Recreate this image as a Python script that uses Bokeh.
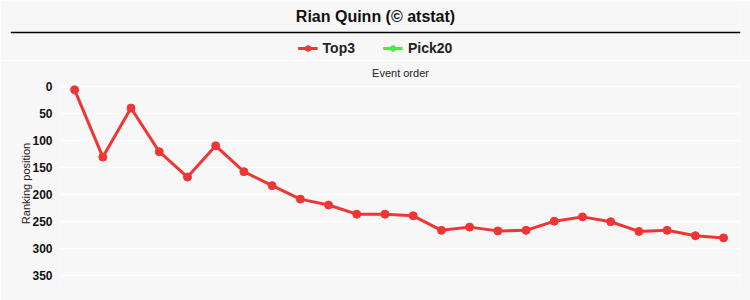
from bokeh.plotting import figure
from bokeh.layouts import column
from bokeh.models import (ColumnDataSource, Range1d, FixedTicker, Legend, LegendItem,
                          Span, Label)
from bokeh.embed import file_html
from bokeh.resources import INLINE

title = "Rian Quinn (© atstat)"
x_title = "Event order"
y_title = "Ranking position"
series_names = ["Top3", "Pick20"]
events = list(range(1, 25))
top3 = [6, 131, 40, 121, 168, 110, 158, 184, 209, 220, 237, 237, 240, 267, 261, 268,
        267, 250, 242, 251, 269, 267, 277, 281]
pick20_events = [1]
pick20 = [float("nan")]
y_ticks = [0, 50, 100, 150, 200, 250, 300, 350]

FONT = "Liberation Sans"
BG = "#f7f7f7"
RED = "#f03535"
GREEN = "#44ee44"

# ---------- header: title, rule, legend ----------
h = figure(width=750, height=60, output_backend="svg", toolbar_location=None,
           x_range=Range1d(0, 1), y_range=Range1d(0, 1),
           x_axis_type=None, y_axis_type=None,
           min_border_left=10, min_border_right=10, min_border_top=0, min_border_bottom=0)
h.frame_align = False
h.background_fill_color = BG
h.border_fill_color = BG
h.outline_line_color = None
h.grid.grid_line_color = None

h.add_layout(Label(x=0.5, y=1 - 16 / 60, text=title, text_align="center",
                   text_baseline="middle", text_font=FONT, text_font_size="16px",
                   text_font_style="bold", text_color="#111111"))
h.add_layout(Span(location=1 - 32 / 60, dimension="width", line_color="#000000",
                  line_width=1.3))

hs1 = ColumnDataSource(dict(x=pick20_events, y=pick20))
hl1 = h.line("x", "y", source=hs1, line_color=RED, line_width=3)
hc1 = h.scatter("x", "y", source=hs1, size=7, fill_color=RED, line_color=RED)
hl2 = h.line("x", "y", source=hs1, line_color=GREEN, line_width=3)
hc2 = h.scatter("x", "y", source=hs1, size=7, fill_color=GREEN, line_color=GREEN)
legend = Legend(items=[LegendItem(label=series_names[0], renderers=[hl1, hc1]),
                       LegendItem(label=series_names[1], renderers=[hl2, hc2])],
                orientation="horizontal", location="bottom_center",
                label_text_font=FONT, label_text_font_size="14px",
                label_text_font_style="bold", label_text_color="#222222",
                background_fill_alpha=0, border_line_color=None,
                glyph_width=20, glyph_height=14, spacing=28, padding=2, margin=4,
                label_standoff=5)
h.add_layout(legend, "center")

# ---------- main chart ----------
p = figure(width=750, height=240, output_backend="svg", toolbar_location=None,
           x_range=Range1d(0.5, 24.6), y_range=Range1d(375, -15),
           x_axis_location="above", min_border_left=60, min_border_right=10,
           min_border_bottom=12, min_border_top=18)
p.frame_align = False
p.background_fill_color = BG
p.border_fill_color = BG
p.outline_line_color = None

src = ColumnDataSource(dict(x=events, y=top3))
p.line("x", "y", source=src, line_color=RED, line_width=3)
p.scatter("x", "y", source=src, size=8, fill_color=RED, line_color=RED)
src2 = ColumnDataSource(dict(x=pick20_events, y=pick20))
p.line("x", "y", source=src2, line_color=GREEN, line_width=3)
p.scatter("x", "y", source=src2, size=8, fill_color=GREEN, line_color=GREEN)

xa = p.xaxis[0]
xa.axis_label = x_title
xa.axis_label_text_font = FONT
xa.axis_label_text_font_size = "11px"
xa.axis_label_text_font_style = "normal"
xa.axis_label_text_color = "#222222"
xa.major_label_text_font_size = "0px"
xa.major_label_standoff = 0
xa.major_tick_out = 0
xa.major_tick_in = 0
xa.major_tick_line_color = None
xa.minor_tick_line_color = None
xa.axis_line_color = None
xa.axis_label_standoff = 0
xa.ticker = FixedTicker(ticks=[])

ya = p.yaxis[0]
ya.ticker = FixedTicker(ticks=y_ticks)
ya.axis_label = y_title
ya.axis_label_text_font = FONT
ya.axis_label_text_font_size = "11px"
ya.axis_label_text_font_style = "normal"
ya.axis_label_text_color = "#222222"
ya.axis_label_standoff = -3
ya.major_label_text_font = FONT
ya.major_label_text_font_size = "12px"
ya.major_label_text_font_style = "bold"
ya.major_label_text_color = "#111111"
ya.major_label_standoff = 8
ya.major_tick_out = 0
ya.major_tick_line_color = None
ya.minor_tick_line_color = None
ya.axis_line_color = None

p.xgrid.grid_line_color = None
p.ygrid.grid_line_color = "#ffffff"
p.ygrid.grid_line_width = 1.5

layout = column(h, p, spacing=0)
open("out.html", "w").write(file_html(layout, INLINE))
